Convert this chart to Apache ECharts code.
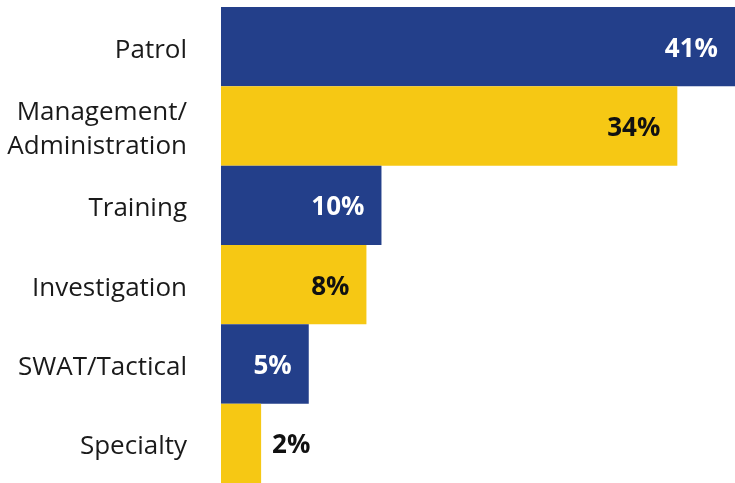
<!DOCTYPE html>
<html>
<head>
<meta charset="utf-8">
<script src="https://cdn.jsdelivr.net/npm/echarts@6/dist/echarts.min.js"></script>
<style>
html,body{margin:0;padding:0;background:#fff;}
#chart{width:735px;height:483px;}
</style>
</head>
<body>
<div id="chart"></div>
<script>
// Categories (top to bottom)
const categories = ["Patrol", "Management/\nAdministration", "Training", "Investigation", "SWAT/Tactical", "Specialty"];
// Percentages printed on the bars
const percentValues = [41, 34, 10, 8, 5, 2];
// Bar lengths as drawn in the original graphic (it is not drawn to scale), in axis units
const drawnLengths = [41, 36.4, 12.8, 11.6, 7.0, 3.2];
// Alternating bar colours
const barColors = ["#233f8a", "#f6c814", "#233f8a", "#f6c814", "#233f8a", "#f6c814"];
const labelColors = ["#ffffff", "#111111", "#ffffff", "#111111", "#ffffff", "#111111"];

const FONT = "'Open Sans', 'Noto Sans', sans-serif";

const chart = echarts.init(document.getElementById('chart'), null, {renderer: 'canvas'});
const data = drawnLengths.map((v, i) => {
  const item = {
    value: v,
    pct: percentValues[i],
    itemStyle: {color: barColors[i]},
    label: {color: labelColors[i]}
  };
  if (i === drawnLengths.length - 1) {
    item.label = {color: labelColors[i], position: 'right', distance: 11};
  }
  return item;
});

chart.setOption({
  animation: false,
  grid: {left: 221, right: 0, top: 7, height: 481, containLabel: false},
  xAxis: {
    type: 'value', min: 0, max: 41, show: false
  },
  yAxis: {
    type: 'category',
    data: categories,
    inverse: true,
    axisLine: {show: false},
    axisTick: {show: false},
    splitLine: {show: false},
    axisLabel: {
      fontFamily: FONT,
      fontSize: 26,
      color: '#1a1a1a',
      margin: 34,
      lineHeight: 34,
      align: 'right',
      formatter: v => v.split('\n').map(s => '{a|' + s + '}').join('\n'),
      rich: {
        a: {fontFamily: FONT, fontSize: 26, color: '#1a1a1a', lineHeight: 34, padding: [7, 0, 0, 0]}
      }
    }
  },
  series: [{
    type: 'bar',
    data: data,
    barCategoryGap: '0%',
    barWidth: '100%',
    label: {
      show: true,
      position: 'insideRight',
      distance: 17,
      fontFamily: FONT,
      fontWeight: 'bold',
      fontSize: 26,
      formatter: p => '{b|' + p.data.pct + '%}',
      rich: {
        b: {fontFamily: FONT, fontWeight: 'bold', fontSize: 26, padding: [5, 0, 0, 0]}
      }
    }
  }]
});
</script>
</body>
</html>
